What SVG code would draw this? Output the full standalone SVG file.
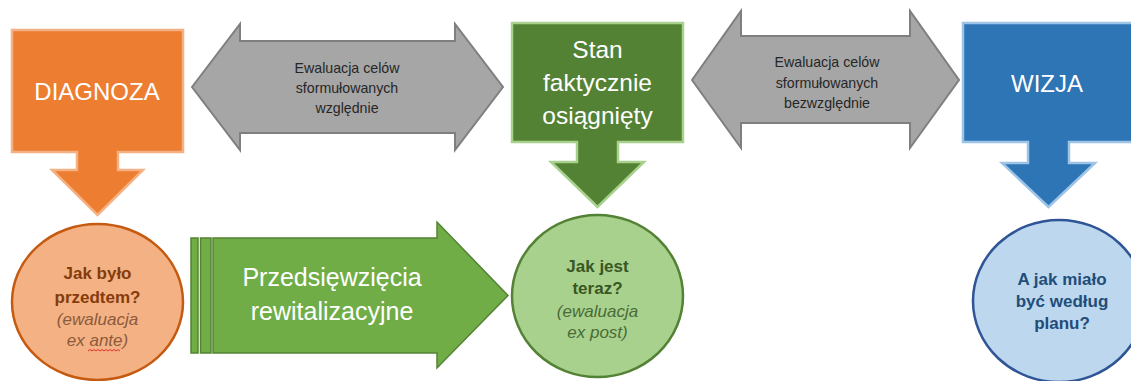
<svg xmlns="http://www.w3.org/2000/svg" width="1131" height="381" viewBox="0 0 1131 381">
<style>
text{font-family:"Liberation Sans",Arial,sans-serif;text-anchor:middle}
.box{stroke-width:2.5;stroke-linejoin:miter}
.w{fill:#ffffff}
.big{font-size:24px}
.mid{font-size:24.5px}
.arr{font-size:25px}
.gl{font-size:14.2px;fill:#262626}
.gray{fill:#a6a6a6;stroke:#7f7f7f;stroke-width:2}
.q{font-size:17px;font-weight:bold}
.it{font-size:17px;font-style:italic}
</style>
<rect width="1131" height="381" fill="#ffffff"/>

<g id="diagnoza">
<path class="box" d="M12,30 H183 V152 H118 V170 H143 L97.5,215 L52,170 H77 V152 H12 Z" fill="#ed7d31" stroke="#f4b183"/>
<text class="w big" x="97" y="100">DIAGNOZA</text>
</g>

<g id="stan">
<path class="box" d="M512,23 H683 V142 H618 V162 H644 L597.5,207 L551,162 H577 V142 H512 Z" fill="#548235" stroke="#a9d18e"/>
<text class="w mid" x="597.5" y="58">Stan</text>
<text class="w mid" x="597.5" y="91">faktycznie</text>
<text class="w mid" x="597.5" y="124">osiągnięty</text>
</g>

<g id="wizja">
<path class="box" d="M963,23 H1134 V142 H1069 V163 H1095 L1048.5,207 L1002,163 H1028 V142 H963 Z" fill="#2e75b6" stroke="#9dc3e6"/>
<text class="w big" x="1047" y="92">WIZJA</text>
</g>

<g id="przed">
<ellipse cx="97.5" cy="302" rx="85.5" ry="78" fill="#f4b183" stroke="#c55a11" stroke-width="2.5"/>
<text class="q" x="97.5" y="279" fill="#843c0c">Jak było</text>
<text class="q" x="97.5" y="303" fill="#843c0c">przedtem?</text>
<text class="it" x="97.5" y="325" fill="#8c5a3c">(ewaluacja</text>
<text class="it" x="97.5" y="346" fill="#8c5a3c">ex ante)</text>
<path d="M88,351 l2,-1.5 l2,1.5 l2,-1.5 l2,1.5 l2,-1.5 l2,1.5 l2,-1.5 l2,1.5 l2,-1.5 l2,1.5 l2,-1.5 l2,1.5 l2,-1.5 l2,1.5 l2,-1.5 l2,1.5" fill="none" stroke="#e03030" stroke-width="1"/>
</g>

<g id="teraz">
<ellipse cx="597.5" cy="296" rx="85.5" ry="81" fill="#a9d18e" stroke="#548235" stroke-width="2.5"/>
<text class="q" x="597.5" y="272" fill="#385723">Jak jest</text>
<text class="q" x="597.5" y="294" fill="#385723">teraz?</text>
<text class="it" x="597.5" y="317" fill="#4a6b35">(ewaluacja</text>
<text class="it" x="597.5" y="338" fill="#4a6b35">ex post)</text>
</g>

<g id="plan">
<ellipse cx="1059" cy="301" rx="86" ry="81" fill="#bdd7ee" stroke="#2f5597" stroke-width="2.5"/>
<text class="q" x="1062" y="285" fill="#1f4e79">A jak miało</text>
<text class="q" x="1062" y="307" fill="#1f4e79">być według</text>
<text class="q" x="1062" y="329" fill="#1f4e79">planu?</text>
</g>

<g id="connectors">
<g id="eval-wzgl">
<path class="gray" d="M192,87 L240,24 V41 H455 V24 L503,87 L455,150 V133 H240 V150 Z"/>
<text class="gl" x="347" y="73">Ewaluacja celów</text>
<text class="gl" x="347" y="93">sformułowanych</text>
<text class="gl" x="347" y="113">względnie</text>
</g>
<g id="eval-bezwzgl">
<path class="gray" d="M692,80 L741,11 V36 H910 V11 L959,80 L910,148 V123 H741 V148 Z"/>
<text class="gl" x="827" y="67">Ewaluacja celów</text>
<text class="gl" x="827" y="88">sformułowanych</text>
<text class="gl" x="827" y="108">bezwzględnie</text>
</g>
<g id="przedsiewziecia">
<rect x="191" y="238" width="7" height="115" fill="#70ad47" stroke="#548235" stroke-width="1.5"/>
<rect x="200.5" y="238" width="10.5" height="115" fill="#70ad47" stroke="#548235" stroke-width="1.5"/>
<path d="M213,238 H437 V222 L508,295.5 L437,368 V353 H213 Z" fill="#70ad47" stroke="#548235" stroke-width="1.5"/>
<text class="w arr" x="332" y="286">Przedsięwzięcia</text>
<text class="w arr" x="332" y="320">rewitalizacyjne</text>
</g>
</g>
</svg>
